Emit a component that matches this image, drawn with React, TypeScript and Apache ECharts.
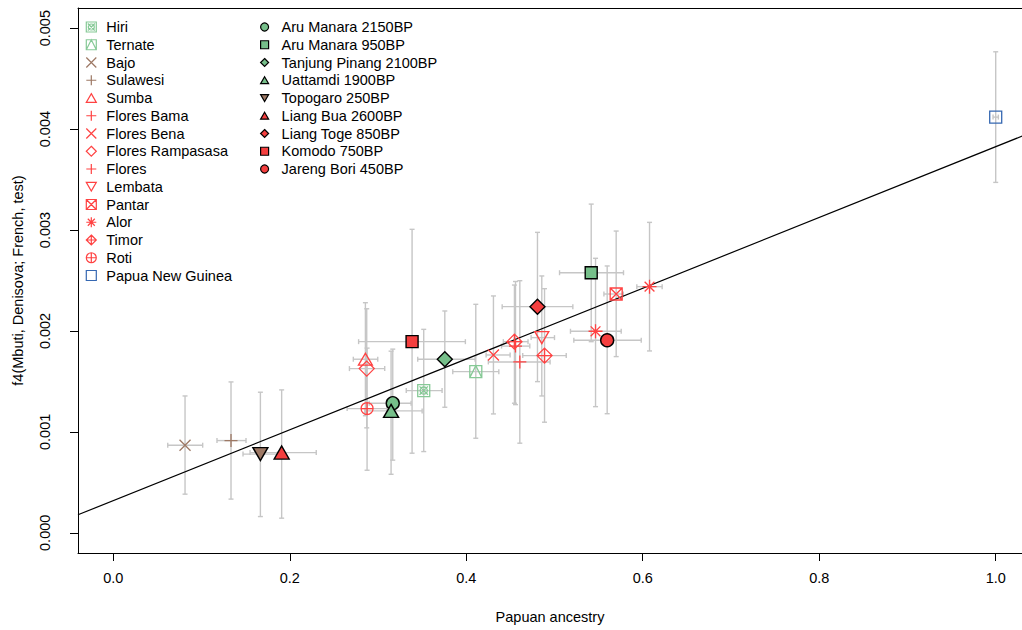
import React, { useEffect, useRef } from "react";
import * as echarts from "echarts";

// ---------- data ----------
const pointPop: string[] = [
  "Hiri", "Ternate", "Bajo", "Sulawesi", "Sumba", "Flores Bama", "Flores Bena",
  "Flores Rampasasa", "Flores", "Lembata", "Pantar", "Alor", "Alor", "Timor", "Timor",
  "Roti", "Papua New Guinea", "Aru Manara 2150BP", "Aru Manara 950BP",
  "Tanjung Pinang 2100BP", "Uattamdi 1900BP", "Topogaro 250BP", "Liang Bua 2600BP",
  "Liang Toge 850BP", "Komodo 750BP", "Jareng Bori 450BP",
];
const papuanX: number[] = [
  0.3518, 0.4108, 0.0813, 0.1334, 0.2857, 0.4558, 0.4308, 0.2872, 0.4607, 0.4856,
  0.5699, 0.6077, 0.5465, 0.4546, 0.4887, 0.2876, 1.0, 0.3167, 0.5416, 0.3757,
  0.3148, 0.1667, 0.1908, 0.4807, 0.3386, 0.5597,
];
const f4Y: number[] = [
  0.001409, 0.001597, 0.000868, 0.000914, 0.00172, 0.00185, 0.001762, 0.001627,
  0.001693, 0.001934, 0.002366, 0.002439, 0.001997, 0.001894, 0.001756, 0.001231,
  0.004119, 0.001284, 0.002577, 0.00172, 0.001208, 0.00078, 0.000795, 0.002241,
  0.001894, 0.001908,
];
const xLow: number[] = [
  0.332, 0.3847, 0.0617, 0.1175, 0.272, 0.44, 0.4225, 0.2676, 0.425, 0.4735,
  0.556, 0.5933, 0.5181, 0.442, 0.464, 0.265, 0.997, 0.29, 0.5057, 0.345,
  0.285, 0.147, 0.155, 0.4407, 0.278, 0.5219,
];
const xHigh: number[] = [
  0.3726, 0.4369, 0.1013, 0.1504, 0.2997, 0.472, 0.4497, 0.3076, 0.495, 0.5,
  0.578, 0.622, 0.5756, 0.47, 0.5133, 0.31, 1.003, 0.3375, 0.5782, 0.41,
  0.35, 0.186, 0.23, 0.5208, 0.399, 0.5983,
];
const yLow: number[] = [
  0.000805, 0.000937, 0.000383, 0.000334, 0.00116, 0.00127, 0.001178, 0.00104,
  0.000888, 0.001356, 0.001746, 0.001802, 0.00125, 0.001284, 0.001096, 0.00062,
  0.003472, 0.00072, 0.001894, 0.001244, 0.00058, 0.000161, 0.000145, 0.001498,
  0.000789, 0.00118,
];
const yHigh: number[] = [
  0.002016, 0.002264, 0.001356, 0.001495, 0.00228, 0.00249, 0.002347, 0.00222,
  0.002498, 0.002545, 0.00299, 0.003076, 0.00272, 0.002455, 0.002419, 0.00183,
  0.004766, 0.00182, 0.003257, 0.002198, 0.0018, 0.001393, 0.001416, 0.002977,
  0.003007, 0.002644,
];

const legendCol1: string[] = [
  "Hiri", "Ternate", "Bajo", "Sulawesi", "Sumba", "Flores Bama", "Flores Bena",
  "Flores Rampasasa", "Flores", "Lembata", "Pantar", "Alor", "Timor", "Roti",
  "Papua New Guinea",
];
const legendCol2: string[] = [
  "Aru Manara 2150BP", "Aru Manara 950BP", "Tanjung Pinang 2100BP", "Uattamdi 1900BP",
  "Topogaro 250BP", "Liang Bua 2600BP", "Liang Toge 850BP", "Komodo 750BP",
  "Jareng Bori 450BP",
];

const xTicks: number[] = [0, 0.2, 0.4, 0.6, 0.8, 1.0];
const yTicks: number[] = [0, 0.001, 0.002, 0.003, 0.004, 0.005];

// fitted regression line
const FIT_INTERCEPT = 0.000319;
const FIT_SLOPE = 0.003507;
const fitX: number[] = [-0.04, 1.04];

// ---------- styles ----------
const RED = "#ff4242";
const REDFILL = "#f43f3f";
const LGREEN = "#86c996";
const GREEN = "#76bf8a";
const BROWN = "#9d7864";
const BLUE = "#3668b2";

const P_X = "path://M0,0L10,10M10,0L0,10";
const P_PLUS = "path://M5,0L5,10M0,5L10,5";
const P_AST = "path://M5,0L5,10M0,5L10,5M1.5,1.5L8.5,8.5M8.5,1.5L1.5,8.5";
const P_SQ = "path://M0,0L10,0L10,10L0,10Z";
const P_DIA = "path://M5,0L10,5L5,10L0,5Z";
const P_SQX = "path://M0,0L10,0L10,10L0,10ZM0,0L10,10M10,0L0,10";
const P_HIRI = "path://M0,0L10,0L10,10L0,10ZM1.5,1.5L8.5,8.5M8.5,1.5L1.5,8.5M2,5A3,3,0,1,1,8,5A3,3,0,1,1,2,5Z";
const P_SQTRI = "path://M0,0L10,0L10,10L0,10ZM0,10L5,0L10,10";
const P_TRIUP = "path://M5,0L10,8.66L0,8.66Z";
const P_TRIDN = "path://M0,0L10,0L5,8.66Z";
const P_DIAPLUS = "path://M5,0L10,5L5,10L0,5ZM5,0L5,10M0,5L10,5";
const P_CIRPLUS = "path://M0,5A5,5,0,1,1,10,5A5,5,0,1,1,0,5ZM5,0L5,10M0,5L10,5";

type Mk = { symbol: string; size: number | number[]; color: string; filled?: boolean };
const markers: Record<string, Mk> = {
  "Hiri": { symbol: P_HIRI, size: 12, color: LGREEN },
  "Ternate": { symbol: P_SQTRI, size: 12, color: LGREEN },
  "Bajo": { symbol: P_X, size: 11, color: BROWN },
  "Sulawesi": { symbol: P_PLUS, size: 13, color: BROWN },
  "Sumba": { symbol: P_TRIUP, size: [14, 12], color: RED },
  "Flores Bama": { symbol: P_PLUS, size: 13, color: RED },
  "Flores Bena": { symbol: P_X, size: 11, color: RED },
  "Flores Rampasasa": { symbol: P_DIA, size: 15, color: RED },
  "Flores": { symbol: P_PLUS, size: 13, color: RED },
  "Lembata": { symbol: P_TRIDN, size: [14, 12], color: RED },
  "Pantar": { symbol: P_SQX, size: 12, color: RED },
  "Alor": { symbol: P_AST, size: 14, color: RED },
  "Timor": { symbol: P_DIAPLUS, size: 15, color: RED },
  "Roti": { symbol: P_CIRPLUS, size: 12, color: RED },
  "Papua New Guinea": { symbol: P_SQ, size: 12, color: BLUE },
  "Aru Manara 2150BP": { symbol: "circle", size: 13, color: GREEN, filled: true },
  "Aru Manara 950BP": { symbol: P_SQ, size: 12, color: GREEN, filled: true },
  "Tanjung Pinang 2100BP": { symbol: P_DIA, size: 15, color: GREEN, filled: true },
  "Uattamdi 1900BP": { symbol: P_TRIUP, size: [15, 13], color: GREEN, filled: true },
  "Topogaro 250BP": { symbol: P_TRIDN, size: [15, 13], color: BROWN, filled: true },
  "Liang Bua 2600BP": { symbol: P_TRIUP, size: [15, 13], color: REDFILL, filled: true },
  "Liang Toge 850BP": { symbol: P_DIA, size: 15, color: REDFILL, filled: true },
  "Komodo 750BP": { symbol: P_SQ, size: 12, color: REDFILL, filled: true },
  "Jareng Bori 450BP": { symbol: "circle", size: 13, color: REDFILL, filled: true },
};

const FONT = "'Liberation Sans', Arial, Helvetica, sans-serif";

export default function App() {
  const ref = useRef<HTMLDivElement>(null);

  useEffect(() => {
    if (!ref.current) return;
    const chart = echarts.init(ref.current, undefined, { renderer: "svg" });

    const errData = papuanX.map((x, i) => [x, f4Y[i], xLow[i], xHigh[i], yLow[i], yHigh[i]]);

    const errSeries: any = {
      type: "custom",
      silent: true,
      z: 1,
      clip: true,
      encode: { x: 0, y: 1 },
      data: errData,
      renderItem: (params: any, api: any) => {
        const x = api.value(0), y = api.value(1);
        const c = api.coord([x, y]);
        const l = api.coord([api.value(2), y]);
        const r = api.coord([api.value(3), y]);
        const b = api.coord([x, api.value(4)]);
        const t = api.coord([x, api.value(5)]);
        const style = { stroke: "#c6c6c6", lineWidth: 1.4 };
        const cap = 2.5;
        return {
          type: "group",
          children: [
            { type: "line", shape: { x1: l[0], y1: c[1], x2: r[0], y2: c[1] }, style },
            { type: "line", shape: { x1: c[0], y1: b[1], x2: c[0], y2: t[1] }, style },
            { type: "line", shape: { x1: l[0], y1: c[1] - cap, x2: l[0], y2: c[1] + cap }, style },
            { type: "line", shape: { x1: r[0], y1: c[1] - cap, x2: r[0], y2: c[1] + cap }, style },
            { type: "line", shape: { x1: c[0] - cap, y1: b[1], x2: c[0] + cap, y2: b[1] }, style },
            { type: "line", shape: { x1: c[0] - cap, y1: t[1], x2: c[0] + cap, y2: t[1] }, style },
          ],
        };
      },
    };

    const fitSeries: any = {
      type: "line",
      silent: true,
      z: 2,
      symbol: "none",
      data: fitX.map((x) => [x, FIT_INTERCEPT + FIT_SLOPE * x]),
      lineStyle: { color: "#000", width: 1.2 },
    };

    const popSeries: any[] = [...legendCol1, ...legendCol2].map((name) => {
      const m = markers[name];
      const data: number[][] = [];
      pointPop.forEach((p, i) => {
        if (p === name) data.push([papuanX[i], f4Y[i]]);
      });
      return {
        type: "scatter",
        name,
        z: m.filled ? 4 : 3,
        symbol: m.symbol,
        symbolSize: m.size,
        data,
        itemStyle: m.filled
          ? { color: m.color, borderColor: "#000", borderWidth: 1.4, opacity: 1 }
          : { color: "transparent", borderColor: m.color, borderWidth: 1.3, opacity: 1 },
      };
    });

    const legendBase = {
      orient: "vertical",
      selectedMode: false,
      padding: 0,
      itemGap: 2.75,
      symbolKeepAspect: true,
      itemStyle: { borderWidth: 1.2 },
    };

    const X_MIN = -0.04;
    const X_MAX = 1.0298;
    const frameLine = { show: true, onZero: false, lineStyle: { color: "#000", width: 1 } };

    chart.setOption({
      animation: false,
      backgroundColor: "#fff",
      grid: {
        left: 78,
        top: 8,
        right: 0,
        bottom: 77,
        show: false,
      },
      legend: [
        {
          ...legendBase,
          left: 85.7,
          top: 19.5,
          itemWidth: 10,
          itemHeight: 10,
          textStyle: { fontFamily: FONT, fontSize: 14.5, color: "#000", lineHeight: 15, padding: [0, 0, 0, 5] },
          data: legendCol1,
        },
        {
          ...legendBase,
          left: 260,
          top: 19.5,
          itemWidth: 8,
          itemHeight: 8,
          textStyle: { fontFamily: FONT, fontSize: 14.5, color: "#000", lineHeight: 15, padding: [0, 0, 0, 8] },
          data: legendCol2,
        },
      ],
      xAxis: [
        {
          type: "value",
          min: X_MIN,
          max: X_MAX,
          name: "Papuan ancestry",
          nameLocation: "middle",
          nameGap: 56,
          nameTextStyle: { fontFamily: FONT, fontSize: 14.5, color: "#000" },
          axisLine: frameLine,
          splitLine: { show: false },
          axisTick: { show: true, length: 8, customValues: xTicks, lineStyle: { color: "#000" } },
          axisLabel: {
            customValues: xTicks,
            margin: 17,
            fontFamily: FONT,
            fontSize: 14.5,
            color: "#000",
            formatter: (v: number) => v.toFixed(1),
          },
        },
        {
          type: "value",
          position: "top",
          min: X_MIN,
          max: X_MAX,
          axisLine: frameLine,
          axisTick: { show: false },
          axisLabel: { show: false },
          splitLine: { show: false },
        },
      ],
      yAxis: {
        type: "value",
        min: -0.0002,
        max: 0.0052,
        name: "f4(Mbuti, Denisova; French, test)",
        nameLocation: "middle",
        nameGap: 53,
        nameTextStyle: { fontFamily: FONT, fontSize: 14.5, color: "#000" },
        axisLine: frameLine,
        splitLine: { show: false },
        axisTick: { show: true, length: 8, customValues: yTicks, lineStyle: { color: "#000" } },
        axisLabel: {
          customValues: yTicks,
          rotate: 90,
          margin: 26,
          fontFamily: FONT,
          fontSize: 14.5,
          color: "#000",
          formatter: (v: number) => v.toFixed(3),
        },
      },
      series: [errSeries, fitSeries, ...popSeries],
    });

    return () => chart.dispose();
  }, []);

  return (
    <div
      ref={ref}
      style={{ position: "fixed", left: 0, top: 0, width: 1022, height: 630, background: "#fff" }}
    />
  );
}
